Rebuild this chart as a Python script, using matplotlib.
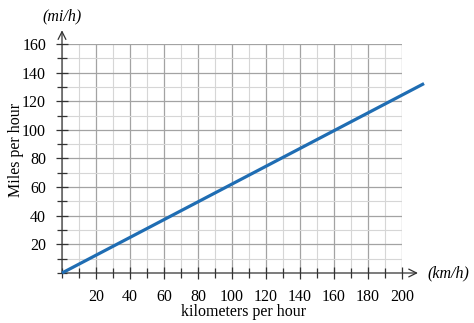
import numpy as np
import matplotlib
matplotlib.use('Agg')
import matplotlib.pyplot as plt
from matplotlib.ticker import MultipleLocator

# kilometres per hour -> miles per hour
km_h = [0, 213]
mi_h = [0, 213 * 0.6214]

x_ticks = [20, 40, 60, 80, 100, 120, 140, 160, 180, 200]
y_ticks = [20, 40, 60, 80, 100, 120, 140, 160]

plt.rcParams['font.family'] = ['Liberation Serif', 'DejaVu Serif']

fig = plt.figure(figsize=(4.74, 3.23), dpi=100)
ax = fig.add_axes([0.1308, 0.1548, 0.7172, 0.709])

ax.set_xlim(0, 200)
ax.set_ylim(0, 160)

ax.xaxis.set_minor_locator(MultipleLocator(10))
ax.yaxis.set_minor_locator(MultipleLocator(10))
ax.set_xticks(x_ticks)
ax.set_yticks(y_ticks)
ax.grid(which='minor', color='#d6d6d6', linewidth=0.8)
ax.grid(which='major', color='#a3a3a3', linewidth=0.9)
ax.set_axisbelow(True)

for s in ax.spines.values():
    s.set_visible(False)

ax.tick_params(which='major', direction='inout', length=9, width=0.9,
               color='#333333', labelsize=11.5, pad=7)
ax.tick_params(which='minor', direction='inout', length=7, width=0.9,
               color='#333333')

ax.plot(km_h, mi_h, color='#1f6db3', linewidth=2.3, clip_on=False,
        solid_capstyle='butt', zorder=5)

# axes with open arrowheads
ax.annotate('', xy=(1.047, 0), xytext=(0, 0), xycoords='axes fraction',
            arrowprops=dict(arrowstyle='->', color='#333333', lw=0.9,
                            mutation_scale=14, shrinkA=0, shrinkB=0))
ax.annotate('', xy=(0, 1.06), xytext=(0, 0), xycoords='axes fraction',
            arrowprops=dict(arrowstyle='->', color='#333333', lw=0.9,
                            mutation_scale=14, shrinkA=0, shrinkB=0))

ax.text(1.075, 0, '(km/h)', transform=ax.transAxes, style='italic',
        fontsize=11.5, va='center', ha='left')
ax.text(0, 1.122, '(mi/h)', transform=ax.transAxes, style='italic',
        fontsize=11.5, va='center', ha='center')

fig.text(0.034, 0.536, 'Miles per hour', rotation=90, fontsize=11.5,
         ha='center', va='center')
fig.text(0.513, 0.034, 'kilometers per hour', fontsize=11.5,
         ha='center', va='center')

fig.savefig('out.png', dpi=100)
